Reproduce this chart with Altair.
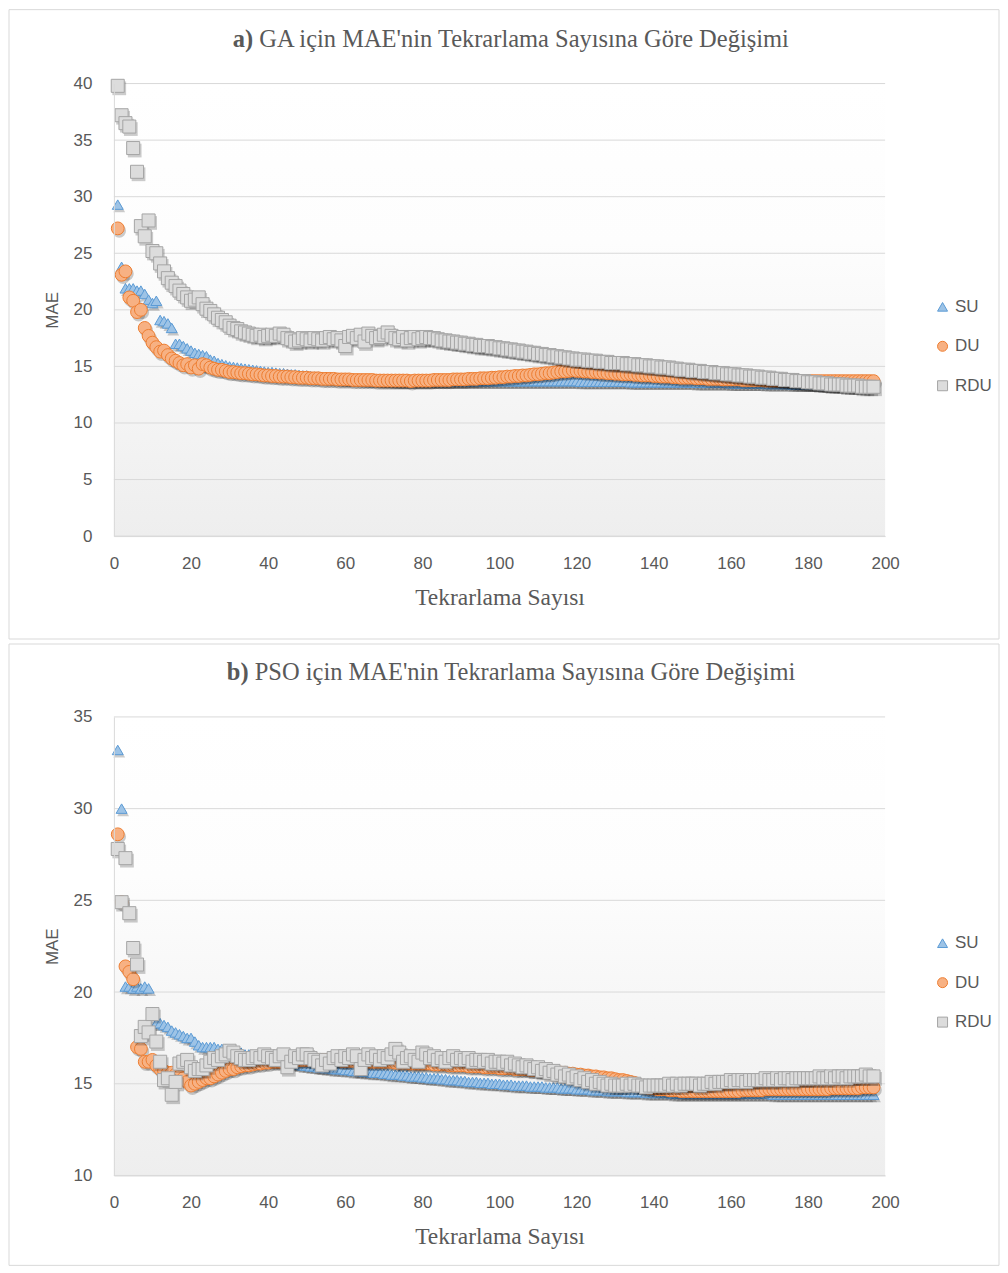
import altair as alt
import pandas as pd

ITER = list(range(1, 198))
SERIES = ["SU", "DU", "RDU"]

GA_SU = [
    29.3, 23.8, 21.9, 21.9, 21.9, 21.7, 21.7, 21.4, 20.9, 20.6,
    20.8, 19.1, 19.0, 18.8, 18.4, 17.0, 17.0, 16.8, 16.6, 16.4,
    16.2, 16.1, 16.0, 15.9, 15.6, 15.5, 15.3, 15.2, 15.1, 15.0,
    14.95, 14.9, 14.85, 14.8, 14.75, 14.7, 14.65, 14.6, 14.55, 14.5,
    14.5, 14.45, 14.4, 14.4, 14.35, 14.3, 14.3, 14.25, 14.2, 14.2,
    14.15, 14.1, 14.1, 14.05, 14.0, 14.0, 13.95, 13.95, 13.9, 13.9,
    13.9, 13.85, 13.85, 13.85, 13.8, 13.8, 13.8, 13.8, 13.75, 13.75,
    13.75, 13.75, 13.7, 13.7, 13.7, 13.7, 13.7, 13.7, 13.7, 13.7,
    13.7, 13.7, 13.7, 13.7, 13.7, 13.7, 13.7, 13.7, 13.7, 13.7,
    13.7, 13.7, 13.7, 13.7, 13.7, 13.7, 13.7, 13.7, 13.7, 13.7,
    13.7, 13.7, 13.7, 13.7, 13.7, 13.7, 13.7, 13.7, 13.7, 13.7,
    13.7, 13.7, 13.7, 13.7, 13.7, 13.7, 13.7, 13.7, 13.7, 13.7,
    13.65, 13.65, 13.65, 13.65, 13.65, 13.65, 13.65, 13.65, 13.65, 13.65,
    13.65, 13.65, 13.65, 13.6, 13.6, 13.6, 13.6, 13.6, 13.6, 13.6,
    13.6, 13.6, 13.6, 13.6, 13.6, 13.6, 13.6, 13.6, 13.6, 13.6,
    13.55, 13.55, 13.55, 13.55, 13.55, 13.55, 13.55, 13.55, 13.55, 13.5,
    13.5, 13.5, 13.5, 13.5, 13.5, 13.5, 13.5, 13.5, 13.45, 13.45,
    13.45, 13.45, 13.45, 13.45, 13.45, 13.4, 13.4, 13.4, 13.4, 13.4,
    13.4, 13.4, 13.4, 13.35, 13.35, 13.35, 13.35, 13.35, 13.35, 13.3,
    13.3, 13.3, 13.3, 13.3, 13.3, 13.3, 13.3,
]

GA_DU = [
    27.2, 23.1, 23.4, 21.1, 20.8, 19.8, 20.0, 18.4, 17.7, 17.1,
    16.7, 16.3, 16.4, 16.0, 15.7, 15.5, 15.3, 15.1, 15.2, 14.9,
    15.1, 14.8, 15.2, 15.1, 14.9, 14.8, 14.7, 14.7, 14.6, 14.5,
    14.5, 14.45, 14.4, 14.4, 14.35, 14.3, 14.3, 14.25, 14.2, 14.2,
    14.15, 14.15, 14.1, 14.1, 14.1, 14.05, 14.05, 14.0, 14.0, 14.0,
    13.95, 13.95, 13.95, 13.9, 13.9, 13.9, 13.9, 13.85, 13.85, 13.85,
    13.85, 13.8, 13.8, 13.8, 13.8, 13.8, 13.8, 13.75, 13.75, 13.75,
    13.75, 13.75, 13.75, 13.75, 13.75, 13.75, 13.7, 13.75, 13.75, 13.75,
    13.75, 13.75, 13.8, 13.8, 13.8, 13.8, 13.8, 13.85, 13.85, 13.85,
    13.85, 13.9, 13.9, 13.9, 13.95, 13.95, 13.95, 14.0, 14.0, 14.05,
    14.05, 14.1, 14.1, 14.15, 14.15, 14.2, 14.2, 14.25, 14.3, 14.3,
    14.35, 14.4, 14.4, 14.45, 14.5, 14.55, 14.55, 14.6, 14.65, 14.6,
    14.6, 14.55, 14.55, 14.5, 14.5, 14.45, 14.45, 14.4, 14.4, 14.35,
    14.35, 14.3, 14.3, 14.3, 14.25, 14.25, 14.2, 14.2, 14.2, 14.15,
    14.15, 14.1, 14.1, 14.1, 14.05, 14.05, 14.0, 14.0, 14.0, 14.0,
    13.95, 13.95, 13.95, 13.9, 13.9, 13.9, 13.9, 13.85, 13.85, 13.85,
    13.85, 13.85, 13.8, 13.8, 13.8, 13.8, 13.8, 13.8, 13.75, 13.75,
    13.75, 13.75, 13.75, 13.75, 13.75, 13.7, 13.7, 13.7, 13.7, 13.7,
    13.7, 13.7, 13.7, 13.7, 13.7, 13.7, 13.7, 13.7, 13.7, 13.7,
    13.7, 13.7, 13.7, 13.7, 13.7, 13.7, 13.7,
]

GA_RDU = [
    39.8, 37.2, 36.5, 36.2, 34.3, 32.2, 27.4, 26.5, 27.9, 25.2,
    25.0, 24.1, 23.4, 22.8, 22.4, 22.1, 21.7, 21.4, 21.1, 20.8,
    20.9, 21.1, 20.5, 20.1, 19.9, 19.6, 19.3, 19.1, 18.9, 18.6,
    18.4, 18.3, 18.1, 18.0, 17.9, 17.8, 17.7, 17.8, 17.6, 17.7,
    17.8, 17.7, 17.9, 17.8, 17.5, 17.4, 17.2, 17.3, 17.5, 17.4,
    17.3, 17.5, 17.4, 17.3, 17.5, 17.6, 17.4, 17.5, 17.3, 16.8,
    17.6, 17.7, 17.5, 17.8, 17.2, 17.9, 17.7, 17.5, 17.6, 17.8,
    18.0, 17.7, 17.5, 17.4, 17.6, 17.3, 17.5, 17.6, 17.4, 17.5,
    17.6, 17.5, 17.5, 17.4, 17.3, 17.3, 17.2, 17.2, 17.1, 17.1,
    17.0, 17.0, 16.9, 16.9, 16.8, 16.8, 16.8, 16.7, 16.7, 16.6,
    16.6, 16.5, 16.5, 16.4, 16.4, 16.3, 16.3, 16.2, 16.2, 16.1,
    16.1, 16.0, 16.0, 15.9, 15.9, 15.8, 15.8, 15.7, 15.7, 15.6,
    15.6, 15.6, 15.5, 15.5, 15.5, 15.4, 15.4, 15.4, 15.3, 15.3,
    15.3, 15.3, 15.2, 15.2, 15.2, 15.1, 15.1, 15.1, 15.0, 15.0,
    15.0, 14.9, 14.9, 14.9, 14.8, 14.8, 14.7, 14.7, 14.7, 14.6,
    14.6, 14.6, 14.5, 14.5, 14.5, 14.4, 14.4, 14.4, 14.3, 14.3,
    14.3, 14.2, 14.2, 14.2, 14.1, 14.1, 14.1, 14.0, 14.0, 14.0,
    13.9, 13.9, 13.9, 13.8, 13.8, 13.8, 13.7, 13.7, 13.7, 13.6,
    13.6, 13.6, 13.5, 13.5, 13.5, 13.4, 13.4, 13.4, 13.4, 13.3,
    13.3, 13.3, 13.3, 13.2, 13.2, 13.2, 13.2,
]

PSO_SU = [
    33.2, 30.0, 20.3, 20.3, 20.2, 20.3, 20.2, 20.3, 20.2, 18.9,
    18.3, 18.3, 18.2, 18.1, 17.9, 17.8, 17.7, 17.6, 17.5, 17.5,
    17.3, 17.1, 17.0, 17.0, 17.0, 17.0, 16.9, 16.9, 16.9, 16.8,
    16.8, 16.7, 16.7, 16.6, 16.6, 16.5, 16.5, 16.4, 16.4, 16.3,
    16.3, 16.25, 16.2, 16.2, 16.15, 16.1, 16.1, 16.05, 16.0, 16.0,
    15.95, 15.95, 15.9, 15.9, 15.85, 15.85, 15.8, 15.8, 15.8, 15.75,
    15.75, 15.7, 15.7, 15.7, 15.65, 15.65, 15.6, 15.6, 15.6, 15.55,
    15.55, 15.5, 15.5, 15.5, 15.45, 15.45, 15.4, 15.4, 15.4, 15.35,
    15.35, 15.3, 15.3, 15.3, 15.25, 15.25, 15.2, 15.2, 15.2, 15.15,
    15.15, 15.1, 15.1, 15.1, 15.05, 15.05, 15.05, 15.0, 15.0, 15.0,
    14.95, 14.95, 14.95, 14.9, 14.9, 14.9, 14.9, 14.85, 14.85, 14.85,
    14.85, 14.8, 14.8, 14.8, 14.8, 14.75, 14.75, 14.75, 14.75, 14.7,
    14.7, 14.7, 14.7, 14.65, 14.65, 14.65, 14.65, 14.6, 14.6, 14.6,
    14.6, 14.6, 14.55, 14.55, 14.55, 14.55, 14.55, 14.5, 14.5, 14.5,
    14.5, 14.5, 14.5, 14.5, 14.45, 14.45, 14.45, 14.45, 14.45, 14.45,
    14.45, 14.45, 14.45, 14.45, 14.45, 14.45, 14.45, 14.45, 14.45, 14.45,
    14.45, 14.45, 14.45, 14.45, 14.45, 14.45, 14.45, 14.45, 14.45, 14.45,
    14.4, 14.4, 14.4, 14.4, 14.4, 14.4, 14.4, 14.4, 14.4, 14.4,
    14.4, 14.4, 14.4, 14.4, 14.4, 14.4, 14.4, 14.4, 14.4, 14.4,
    14.4, 14.4, 14.4, 14.4, 14.4, 14.4, 14.4,
]

PSO_DU = [
    28.6, 24.9, 21.4, 21.1, 20.7, 17.0, 16.9, 16.2, 16.2, 16.3,
    16.0, 15.8, 15.7, 15.6, 15.6, 15.5, 15.4, 15.3, 15.1, 14.9,
    15.0, 15.1, 15.2, 15.3, 15.3, 15.4, 15.5, 15.6, 15.7, 15.8,
    15.8, 15.9, 15.95, 16.0, 16.0, 16.05, 16.1, 16.1, 16.15, 16.15,
    16.2, 16.2, 16.2, 16.25, 16.25, 16.25, 16.25, 16.3, 16.3, 16.3,
    16.3, 16.3, 16.3, 16.3, 16.3, 16.3, 16.3, 16.3, 16.25, 16.25,
    16.25, 16.25, 16.25, 16.25, 16.2, 16.2, 16.2, 16.2, 16.2, 16.2,
    16.2, 16.2, 16.15, 16.15, 16.15, 16.15, 16.1, 16.1, 16.1, 16.1,
    16.1, 16.1, 16.05, 16.05, 16.05, 16.05, 16.0, 16.0, 16.0, 16.0,
    16.0, 15.95, 15.95, 15.95, 15.95, 15.9, 15.9, 15.9, 15.9, 15.85,
    15.85, 15.85, 15.85, 15.8, 15.8, 15.8, 15.8, 15.75, 15.75, 15.75,
    15.7, 15.7, 15.7, 15.65, 15.65, 15.6, 15.6, 15.55, 15.55, 15.5,
    15.5, 15.45, 15.45, 15.4, 15.4, 15.35, 15.35, 15.3, 15.3, 15.25,
    15.2, 15.2, 15.15, 15.1, 15.05, 14.95, 14.85, 14.8, 14.75, 14.75,
    14.7, 14.7, 14.7, 14.65, 14.65, 14.65, 14.6, 14.6, 14.6, 14.6,
    14.6, 14.6, 14.6, 14.6, 14.6, 14.6, 14.6, 14.6, 14.6, 14.6,
    14.6, 14.6, 14.65, 14.65, 14.65, 14.65, 14.65, 14.65, 14.7, 14.7,
    14.7, 14.7, 14.7, 14.7, 14.7, 14.7, 14.7, 14.7, 14.7, 14.7,
    14.7, 14.7, 14.7, 14.7, 14.7, 14.75, 14.75, 14.75, 14.75, 14.75,
    14.75, 14.75, 14.75, 14.8, 14.8, 14.8, 14.8,
]

PSO_RDU = [
    27.8, 24.9, 27.3, 24.3, 22.4, 21.5, 17.6, 18.1, 17.8, 18.8,
    17.3, 16.2, 15.2, 15.3, 14.4, 15.1, 16.1, 16.2, 16.3, 15.9,
    15.7, 15.8, 15.8, 16.0, 16.2, 16.4, 16.3, 16.5, 16.6, 16.8,
    16.7, 16.5, 16.4, 16.3, 16.3, 16.4, 16.5, 16.4, 16.6, 16.5,
    16.4, 16.3, 16.5, 16.6, 15.9, 16.2, 16.5, 16.4, 16.6, 16.6,
    16.4, 16.3, 16.2, 16.0, 16.3, 16.1, 16.4, 16.5, 16.3, 16.5,
    16.4, 16.6, 16.5, 15.8, 16.3, 16.6, 16.4, 16.5, 16.3, 16.5,
    16.4, 16.6, 16.9, 16.7, 16.2, 16.4, 16.5, 16.3, 16.2, 16.7,
    16.6, 16.4, 16.5, 16.3, 16.4, 16.2, 16.4, 16.5, 16.3, 16.4,
    16.3, 16.4, 16.2, 16.3, 16.3, 16.2, 16.3, 16.1, 16.2, 16.2,
    16.1, 16.2, 16.0, 16.1, 16.0, 15.9, 16.0, 15.9, 15.8, 15.9,
    15.7, 15.8, 15.6, 15.7, 15.5, 15.6, 15.4, 15.5, 15.3, 15.4,
    15.2, 15.3, 15.1, 15.2, 15.0, 15.1, 15.0, 14.9, 15.0, 14.9,
    14.9, 14.9, 15.0, 14.9, 15.0, 14.9, 14.9, 14.8, 14.9, 14.9,
    14.9, 14.9, 14.9, 15.0, 14.9, 15.0, 14.9, 15.0, 15.0, 15.0,
    15.0, 14.9, 15.0, 15.0, 15.1, 15.0, 15.1, 15.1, 15.1, 15.2,
    15.1, 15.2, 15.2, 15.1, 15.2, 15.2, 15.2, 15.2, 15.3, 15.2,
    15.2, 15.3, 15.2, 15.3, 15.3, 15.2, 15.3, 15.3, 15.3, 15.3,
    15.3, 15.3, 15.4, 15.3, 15.3, 15.4, 15.3, 15.4, 15.4, 15.3,
    15.4, 15.4, 15.4, 15.4, 15.5, 15.4, 15.4,
]

X_TICKS = [0, 20, 40, 60, 80, 100, 120, 140, 160, 180, 200]
GA_Y_TICKS = [0, 5, 10, 15, 20, 25, 30, 35, 40]
PSO_Y_TICKS = [10, 15, 20, 25, 30, 35]

FILLS = ["#9dc3e6", "#f7b183", "#dcdcdc"]
STROKES = ["#5b9bd5", "#ed7d31", "#a5a5a5"]
SHAPES = ["triangle-up", "circle", "square"]
SIZES = [120, 165, 170]

TXT = "#595959"
GRID = "#d9d9d9"
SANS = "Liberation Sans"
SERIF = "Liberation Serif"

W = 772


def panel(su, du, rdu, yticks, H, bold, rest, bold_x, rest_x, frame_top, frame_bottom, legend_y):
    rows = []
    for name, vals in zip(SERIES, [su, du, rdu]):
        rows += [{"x": i, "v": v, "series": name} for i, v in zip(ITER, vals)]
    df = pd.DataFrame(rows)

    xenc = alt.X("x:Q", scale=alt.Scale(domain=[0, 200], nice=False, zero=False),
                 axis=alt.Axis(values=X_TICKS, grid=False, ticks=False, tickSize=0,
                               labelFlush=False, labelOverlap=False,
                               domainColor=GRID, labelPadding=19, labelFont=SANS,
                               labelFontSize=17, labelColor=TXT, title="Tekrarlama Sayısı",
                               titleFont=SERIF, titleFontSize=23.5, titleFontWeight="normal",
                               titleColor=TXT, titlePadding=14, zindex=1))
    yenc = alt.Y("v:Q", scale=alt.Scale(domain=[yticks[0], yticks[-1]], nice=False, zero=False),
                 axis=alt.Axis(values=yticks, grid=False, ticks=False, tickSize=0,
                               labelFlush=False, labelOverlap=False,
                               domainColor=GRID, labelPadding=22, labelFont=SANS,
                               labelFontSize=17, labelColor=TXT, title="MAE",
                               titleFont=SANS, titleFontSize=17, titleFontWeight="normal",
                               titleColor=TXT, titlePadding=12, zindex=1))

    legend = alt.Legend(orient="none", legendX=821, legendY=legend_y, title=None,
                        labelFont=SANS, labelFontSize=17, labelColor=TXT,
                        symbolSize=100, rowPadding=21.5, symbolStrokeWidth=1,
                        labelOffset=4, padding=0)

    one = alt.Data(values=[{"k": 1}])
    frame = alt.Chart(one).mark_rect(fill="white", stroke=GRID, strokeWidth=1).encode(
        x=alt.value(-105), x2=alt.value(886), y=alt.value(frame_top), y2=alt.value(frame_bottom))
    grad = alt.Chart(one).mark_rect(fill={
        "gradient": "linear", "x1": 0, "y1": 0, "x2": 0, "y2": 1,
        "stops": [{"offset": 0, "color": "#ffffff"}, {"offset": 0.35, "color": "#fdfdfd"},
                  {"offset": 1, "color": "#eeeeee"}]}).encode(
        x=alt.value(0), x2=alt.value(W), y=alt.value(0), y2=alt.value(H))
    grid = alt.Chart(pd.DataFrame({"v": yticks})).mark_rule(color=GRID, strokeWidth=1).encode(y=yenc)

    layers = [frame, grad, grid]
    for i, name in enumerate(SERIES):
        sub = alt.Chart(df).transform_filter(alt.datum.series == name)
        shadow = sub.mark_point(shape=SHAPES[i], filled=True, color="#000000", opacity=0.2,
                                size=SIZES[i] + 20, strokeWidth=0, xOffset=1.5, yOffset=2.5).encode(
            x=xenc, y=yenc)
        main = sub.mark_point(filled=True, opacity=1, strokeWidth=1, size=SIZES[i]).encode(
            x=xenc, y=yenc,
            fill=alt.Fill("series:N", scale=alt.Scale(domain=SERIES, range=FILLS), legend=legend),
            stroke=alt.Stroke("series:N", scale=alt.Scale(domain=SERIES, range=STROKES), legend=legend),
            shape=alt.Shape("series:N", scale=alt.Scale(domain=SERIES, range=SHAPES), legend=legend),
        )
        layers += [shadow, main]

    t1 = alt.Chart(one).mark_text(text=bold, font=SERIF, fontWeight="bold", fontSize=24.5,
                                  color=TXT, align="left", baseline="middle").encode(
        x=alt.value(bold_x), y=alt.value(-44))
    t2 = alt.Chart(one).mark_text(text=rest, font=SERIF, fontWeight="normal", fontSize=24.5,
                                  color=TXT, align="left", baseline="middle").encode(
        x=alt.value(rest_x), y=alt.value(-44))
    layers += [t1, t2]
    return alt.layer(*layers).properties(width=W, height=H)


chart_a = panel(GA_SU, GA_DU, GA_RDU, GA_Y_TICKS, 453, "a)",
                "GA için MAE'nin Tekrarlama Sayısına Göre Değişimi",
                119, 145.5, -74, 556, 215)
chart_b = panel(PSO_SU, PSO_DU, PSO_RDU, PSO_Y_TICKS, 459, "b)",
                "PSO için MAE'nin Tekrarlama Sayısına Göre Değişimi",
                113, 141, -73, 549, 218)

chart = alt.vconcat(chart_a, chart_b, spacing=3).resolve_scale(
    x="independent", y="independent", fill="independent", stroke="independent", shape="independent"
).resolve_legend(fill="independent", stroke="independent", shape="independent").properties(
    padding=0, background="white"
).configure_view(stroke=None)

chart.save("out.html", embed_options={"renderer": "svg", "actions": False})
